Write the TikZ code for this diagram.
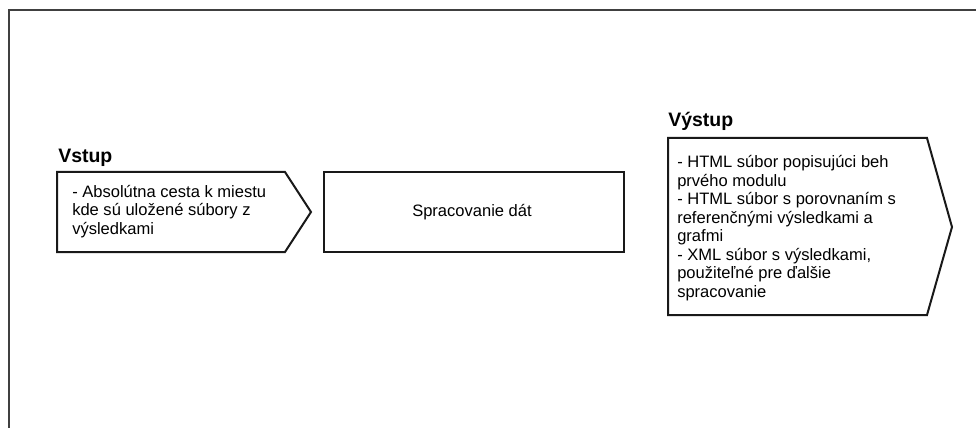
\documentclass[tikz,border=0pt]{standalone}
\usepackage{fontspec}
\setmainfont{Liberation Sans}
\usetikzlibrary{positioning}
\tikzset{
	ramec/.style={line width=1.5pt,draw=black!75},
	blok/.style={line width=1.5pt,draw=black!90,line join=miter},
	popis/.style={align=left,inner sep=0pt,font=\fontsize{12.4}{13.9}\selectfont},
	nadpis/.style={anchor=base west,inner sep=0pt,font=\bfseries\fontsize{14.6}{16}\selectfont},
}

\begin{document}
\begin{tikzpicture}[x=0.75pt,y=-0.75pt]
			\useasboundingbox (0,0) rectangle (976,428);
			
			%frame.....................
			\draw [ramec] (8.5,428) to (8.5,10.5) to (976,10.5);
			
			%input arrow......................
			\draw [blok] (57,172) -- (285,172) -- (311,212) -- (285,252) -- (57,252) -- cycle;
			\node [nadpis] (vstup) at (58,163) {Vstup};
			\node [popis,anchor=west] (vstupText) at (72,211.5) {- Absolútna cesta k miestu\\kde sú uložené súbory z\\výsledkami};
			
			% processing box...................
			\draw [blok] (324,172) rectangle (624,252);
			\node [popis] (spracovanie) at (472,212) {Spracovanie dát};
			
			% output arrow....................
			\draw [blok] (668,138) -- (927,138) -- (952,227) -- (927,315) -- (668,315) -- cycle;
			\node [nadpis] (vystup) at (668,127) {Výstup};
			\node [popis,anchor=west] (vystupText) at (677,228) {- HTML súbor popisujúci beh\\prvého modulu\\- HTML súbor s porovnaním s\\referenčnými výsledkami a\\grafmi\\- XML súbor s výsledkami,\\použiteľné pre ďalšie\\spracovanie};
		\end{tikzpicture}
\end{document}
